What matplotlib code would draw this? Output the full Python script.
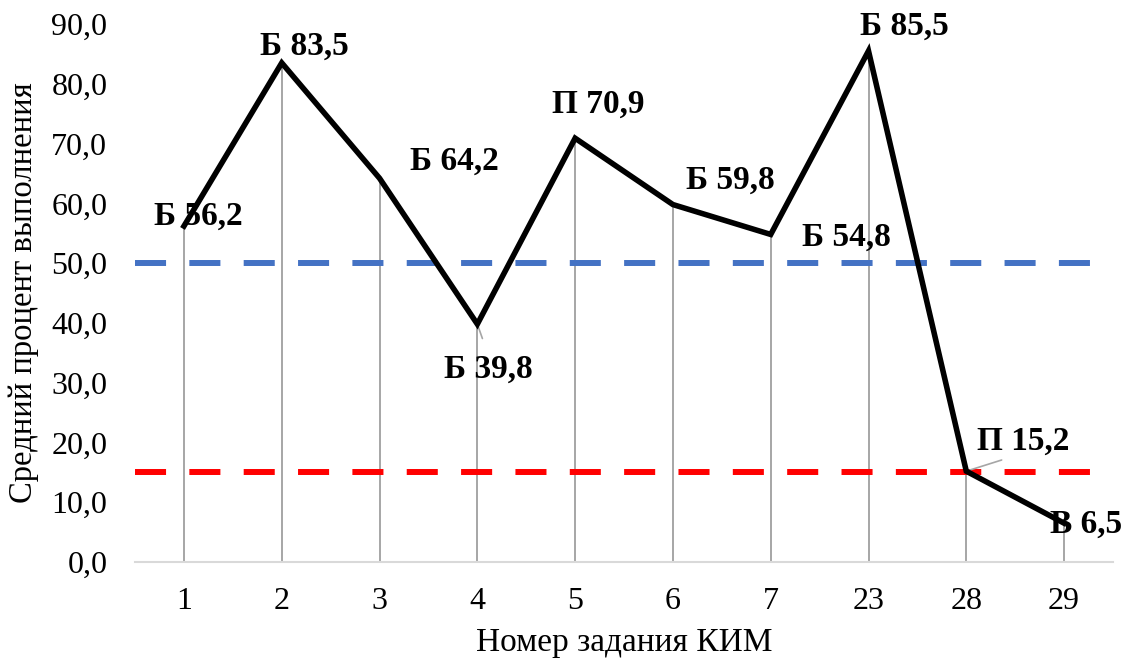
import matplotlib.pyplot as plt
import numpy as np

tasks = ["1", "2", "3", "4", "5", "6", "7", "23", "28", "29"]
values = [56.2, 83.5, 64.2, 39.8, 70.9, 59.8, 54.8, 85.5, 15.2, 6.5]
levels = ["Б", "Б", "Б", "Б", "П", "Б", "Б", "Б", "П", "В"]
upper_ref = 50.0
lower_ref = 15.0

plt.rcParams["font.family"] = ["Liberation Serif", "DejaVu Serif"]

fig = plt.figure(figsize=(11.35, 6.62), dpi=100)
ax = fig.add_axes([0.119, 0.151, 0.8616, 0.8127])

x = np.arange(len(tasks))
ax.vlines(x, 0, values, color="#A6A6A6", lw=1.4, zorder=1)
ax.axhline(upper_ref, color="#4472C4", lw=4.3, dashes=(5.2, 3.9), zorder=2)
ax.axhline(lower_ref, color="#FF0000", lw=4.3, dashes=(5.2, 3.9), zorder=2)
ax.plot(x, values, color="black", lw=4.0, solid_joinstyle="miter", zorder=3)

# label offsets in pixels (dx, dy up)
offsets = [(14, 10), (23, 17), (75, 17), (11, -45), (23, 34),
           (57, 24), (76, -3), (36, 25), (57, 30), (22, -1)]
leaders = [False, False, False, True, False, False, False, False, True, False]
for i, (lv, v) in enumerate(zip(levels, values)):
    dx, dy = offsets[i]
    label = f"{lv} {v:.1f}".replace(".", ",")
    ax.annotate(label, (x[i], v), xytext=(dx, dy), textcoords="offset pixels",
                ha="center", va="center", fontsize=24, fontweight="bold", zorder=4)
    if leaders[i]:
        ex, ey = (6, -17) if i == 3 else (38, 12)
        ax.annotate("", (x[i], v), xytext=(ex, ey), textcoords="offset pixels",
                    arrowprops=dict(arrowstyle="-", color="#A6A6A6", lw=1.2), zorder=2)

ax.set_xlim(-0.5, len(tasks) - 0.5)
ax.set_ylim(0, 90)
ax.set_yticks(np.arange(0, 91, 10))
ax.set_yticklabels([f"{t:.1f}".replace(".", ",") for t in np.arange(0, 91, 10)])
ax.set_xticks(x)
ax.set_xticklabels(tasks)
ax.tick_params(length=0, labelsize=23)
ax.tick_params(axis="y", pad=20)
ax.tick_params(axis="x", pad=18)
for side in ["top", "right", "left"]:
    ax.spines[side].set_visible(False)
ax.spines["bottom"].set_color("#D9D9D9")
ax.spines["bottom"].set_linewidth(1.5)
ax.set_xlabel("Номер задания КИМ", fontsize=24, labelpad=8)
ax.set_ylabel("Средний процент выполнения", fontsize=23.5, labelpad=9)

fig.savefig("out.png", dpi=100)
